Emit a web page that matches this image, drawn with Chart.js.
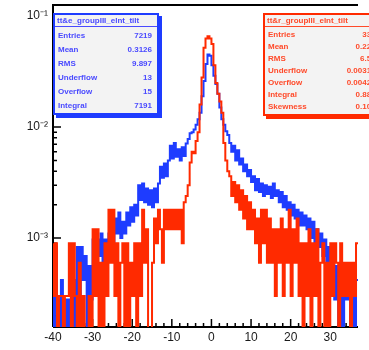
<!DOCTYPE html>
<html>
<head>
<meta charset="utf-8">
<script src="https://cdn.jsdelivr.net/npm/chart.js@4.4.1/dist/chart.umd.min.js"></script>
<style>
  body { margin: 0; background: #fff; }
  #wrap { position: relative; width: 369px; height: 350px; overflow: hidden; }
  #c { position: absolute; left: 0; top: 0; }
  .stats {
    position: absolute; box-sizing: border-box; background: #f3f3f3;
    border: 2px solid; font-family: "Liberation Sans", Arial, sans-serif;
    font-size: 8px; font-weight: bold; display: flex; flex-direction: column;
  }
  .stats .ttl { height: 11px; line-height: 11px; border-bottom: 1px solid; padding: 0 2px; white-space: nowrap; overflow: hidden; }
  .stats .rows { flex: 1; display: flex; flex-direction: column; justify-content: space-around; padding: 1px 5px 1px 3px; }
  .stats .row { display: flex; justify-content: space-between; white-space: nowrap; }
  #statsBlue { left: 53px; top: 13px; width: 106px; height: 102px; color: #4a4aff; border-color: #1e3cff; box-shadow: 3px 3px 0 #1e3cff; }
  #statsRed { left: 263px; top: 13px; width: 124px; height: 103px; color: #ff4a2a; border-color: #ff2a00; box-shadow: 3px 3px 0 #ff2a00; }
</style>
</head>
<body>
<div id="wrap">
  <canvas id="c" width="369" height="350"></canvas>
  <div class="stats" id="statsBlue"><div class="ttl"></div><div class="rows"></div></div>
  <div class="stats" id="statsRed"><div class="ttl"></div><div class="rows"></div></div>
</div>
<script>
// histogram binning (bins of 0.5 starting at -40)
const binStart = -40;
const binWidth = 0.5;

// blue histogram, bin contents
const blueVals = [
  0.00083, 0.00014, 0.00083, 0.00028, 0.00014, 0.00042, 0.00014, 0.00028, 0.00014, 0.00028,
  0.00014, 0.00042, 0.00014, 0.00083, 0.00028, 0.00083, 0.00042, 0.00069, 0.00014, 0.00056,
  0.00028, 0.00097, 0.00056, 0.00097, 0.00069, 0.0011, 0.00056, 0.00097, 0.00069, 0.0011,
  0.0015, 0.0009, 0.0015, 0.0011, 0.0017, 0.0010, 0.0014, 0.0011, 0.0017, 0.0013,
  0.0019, 0.0014, 0.0020, 0.0016, 0.0030, 0.0022, 0.0031, 0.0021, 0.0028, 0.0020,
  0.0027, 0.0019, 0.0028, 0.0021, 0.0031, 0.0044, 0.0035, 0.0047, 0.0036, 0.0050,
  0.0068, 0.0052, 0.0072, 0.0054, 0.0063, 0.0050, 0.0066, 0.0055, 0.0071, 0.0078,
  0.0088, 0.0090, 0.0095, 0.0105, 0.0118, 0.0135, 0.0190, 0.0260, 0.0370, 0.0450,
  0.0440, 0.0360, 0.0290, 0.0245, 0.0200, 0.0150, 0.0118, 0.0105, 0.0092, 0.0085,
  0.0072, 0.0060, 0.0068, 0.0050, 0.0062, 0.0046, 0.0052, 0.0040, 0.0046, 0.0036,
  0.0041, 0.0032, 0.0036, 0.0027, 0.0034, 0.0026, 0.0031, 0.0024, 0.0030, 0.0025,
  0.0029, 0.0023, 0.0031, 0.0024, 0.0027, 0.0021, 0.0026, 0.0019, 0.0024, 0.0018,
  0.0021, 0.0016, 0.0020, 0.0015, 0.0018, 0.0013, 0.0017, 0.0013, 0.0016, 0.0012,
  0.0015, 0.0010, 0.0014, 0.0009, 0.0012, 0.00083, 0.0011, 0.00069, 0.00097, 0.00056,
  0.00083, 0.00042, 0.00069, 0.00028, 0.00056, 0.00014, 0.00042, 0.00014, 0.00056, 0.00028,
  0.00042, 0.00014, 0.00056, 0.00014, 0.00042
];

// red histogram, bin contents
const redVals = [
  0.0009, 0.0003, 0.0009, 0.0001, 0.0003, 0.0003, 0.0001, 0.0003, 0.0003, 0.0009,
  0.0001, 0.0009, 0.0003, 0.0001, 0.0006, 0.0001, 0.0003, 0.0001, 0.0001, 0.0003,
  0.0001, 0.0012, 0.0003, 0.0012, 0.0001, 0.0006, 0.0001, 0.0009, 0.0003, 0.0018,
  0.0006, 0.0018, 0.0003, 0.0009, 0.0001, 0.0006, 0.0009, 0.0001, 0.0009, 0.0001,
  0.0006, 0.0003, 0.0009, 0.0001, 0.0009, 0.0003, 0.0018, 0.0006, 0.0012, 0.0001,
  0.0001, 0.0006, 0.0015, 0.0009, 0.0018, 0.0012, 0.0006, 0.0018, 0.0012, 0.0018,
  0.0012, 0.0018, 0.0012, 0.0018, 0.0012, 0.0018, 0.0009, 0.0021, 0.0024, 0.0030,
  0.0048, 0.0060, 0.0058, 0.0075, 0.0090, 0.0160, 0.0280, 0.0520, 0.0630, 0.0660,
  0.0630, 0.0560, 0.0360, 0.0250, 0.0200, 0.0170, 0.0135, 0.0072, 0.0050, 0.0040,
  0.0036, 0.0024, 0.0032, 0.0021, 0.0030, 0.0018, 0.0027, 0.0015, 0.0024, 0.0012,
  0.0021, 0.0012, 0.0018, 0.0009, 0.0015, 0.0006, 0.0018, 0.0009, 0.0018, 0.0006,
  0.0015, 0.0006, 0.0012, 0.0003, 0.0012, 0.0006, 0.0015, 0.0003, 0.0012, 0.0006,
  0.0018, 0.0003, 0.0012, 0.0006, 0.0015, 0.0003, 0.0009, 0.0001, 0.0009, 0.0003,
  0.0012, 0.0001, 0.0009, 0.0003, 0.0012, 0.0001, 0.0006, 0.0009, 0.0001, 0.0006,
  0.0001, 0.0009, 0.0003, 0.0009, 0.0006, 0.0001, 0.0009, 0.0003, 0.0006, 0.0003,
  0.0006, 0.0001, 0.0006, 0.0003, 0.0009
];

// axis ranges and tick labels
const xMin = -40, xMax = 37;
const yMin = 1.58e-4, yMax = 0.126;
const xLabelled = [-40, -30, -20, -10, 0, 10, 20, 30];
const yDecades = [1e-3, 1e-2, 1e-1];
const yDecadeLabels = ['10\u207B\u00B3', '10\u207B\u00B2', '10\u207B\u00B9'];

// stat boxes
const blueTitle = 'tt&e_groupIII_elnt_tilt';
const blueStatNames = ['Entries', 'Mean', 'RMS', 'Underflow', 'Overflow', 'Integral'];
const blueStatValues = ['7219', '0.3126', '9.897', '13', '15', '7191'];
const redTitle = 'tt&r_groupIII_elnt_tilt';
const redStatNames = ['Entries', 'Mean', 'RMS', 'Underflow', 'Overflow', 'Integral', 'Skewness'];
const redStatValues = ['3352', '0.2231', '6.502', '0.003125', '0.004252', '0.8816', '0.1043'];

const blue = '#1e3cff';
const red = '#ff2a00';

function histPoints(vals)
{
    const pts = vals.map((v, i) => ({x: binStart + i * binWidth, y: v}));
    pts.push({x: binStart + vals.length * binWidth, y: vals[vals.length - 1]});
    return pts;
}

function fillStats(id, title, names, values)
{
    const box = document.getElementById(id);
    box.querySelector('.ttl').textContent = title;
    const rows = box.querySelector('.rows');
    for(let i = 0; i < names.length; i += 1)
    {
        const r = document.createElement('div');
        r.className = 'row';
        const a = document.createElement('span');
        a.textContent = names[i];
        const b = document.createElement('span');
        b.textContent = values[i];
        r.appendChild(a);
        r.appendChild(b);
        rows.appendChild(r);
    }
}

fillStats('statsBlue', blueTitle, blueStatNames, blueStatValues);
fillStats('statsRed', redTitle, redStatNames, redStatValues);

// ROOT style frame: axis lines and inward ticks, under the histograms
const rootFrame = {
    id: 'rootFrame',
    beforeDatasetsDraw(chart)
    {
        const {ctx, chartArea: a, scales: {x, y}} = chart;
        ctx.save();
        ctx.strokeStyle = '#000';
        ctx.lineWidth = 1.5;
        ctx.beginPath();
        x.ticks.forEach(t => {
            const px = x.getPixelForValue(t.value);
            const len = t.label !== '' ? 8 : 4;
            ctx.moveTo(px, a.bottom);
            ctx.lineTo(px, a.bottom - len);
        });
        y.ticks.forEach(t => {
            const py = y.getPixelForValue(t.value);
            const len = t.label !== '' ? 8 : 4;
            ctx.moveTo(a.left, py);
            ctx.lineTo(a.left + len, py);
        });
        ctx.stroke();
        ctx.lineWidth = 2;
        ctx.beginPath();
        ctx.moveTo(a.left, a.bottom);
        ctx.lineTo(a.left, a.top);
        ctx.lineTo(a.right, a.top);
        ctx.moveTo(a.left, a.bottom);
        ctx.lineTo(a.right, a.bottom);
        ctx.stroke();
        ctx.restore();
    }
};

const tickFont = {family: '"Liberation Sans", Arial, sans-serif', size: 12};

new Chart(document.getElementById('c').getContext('2d'),
{
    type: 'line',
    data:
    {
        datasets:
        [
            {
                data: histPoints(redVals),
                borderColor: red,
                borderWidth: 2,
                stepped: 'after',
                pointRadius: 0,
                fill: false,
                clip: 0
            },
            {
                data: histPoints(blueVals),
                borderColor: blue,
                borderWidth: 2,
                stepped: 'after',
                pointRadius: 0,
                fill: false,
                clip: 0
            }
        ]
    },
    options:
    {
        responsive: false,
        animation: false,
        devicePixelRatio: 1,
        layout: {padding: {top: 5, right: 11, left: 0, bottom: 0}},
        plugins: {legend: {display: false}, tooltip: {enabled: false}},
        scales:
        {
            x:
            {
                type: 'linear',
                min: xMin,
                max: xMax,
                grid: {display: false, drawTicks: false},
                border: {display: false},
                afterBuildTicks: s => {
                    const t = [];
                    for(let v = xMin; v <= xMax; v += 2) t.push({value: v});
                    s.ticks = t;
                },
                ticks:
                {
                    autoSkip: false,
                    maxRotation: 0,
                    padding: 3,
                    color: '#1a1a1a',
                    font: tickFont,
                    callback: v => xLabelled.includes(v) ? String(v) : ''
                },
                afterFit: s => { s.height = 23; s.paddingLeft = 0; s.paddingRight = 0; }
            },
            y:
            {
                type: 'logarithmic',
                min: yMin,
                max: yMax,
                grid: {display: false, drawTicks: false},
                border: {display: false},
                afterBuildTicks: s => {
                    const t = [];
                    for(let e = -4; e <= -1; e += 1)
                    {
                        for(let k = 1; k <= 9; k += 1)
                        {
                            const v = k * Math.pow(10, e);
                            if(v >= yMin && v <= yMax) t.push({value: v});
                        }
                    }
                    s.ticks = t;
                },
                ticks:
                {
                    autoSkip: false,
                    padding: 5,
                    color: '#1a1a1a',
                    font: tickFont,
                    callback: v => {
                        const i = yDecades.findIndex(d => Math.abs(d - v) / d < 1e-6);
                        return i >= 0 ? yDecadeLabels[i] : '';
                    }
                },
                afterFit: s => { s.width = 53; s.paddingTop = 0; s.paddingBottom = 0; }
            }
        }
    },
    plugins: [rootFrame]
});
</script>
</body>
</html>
